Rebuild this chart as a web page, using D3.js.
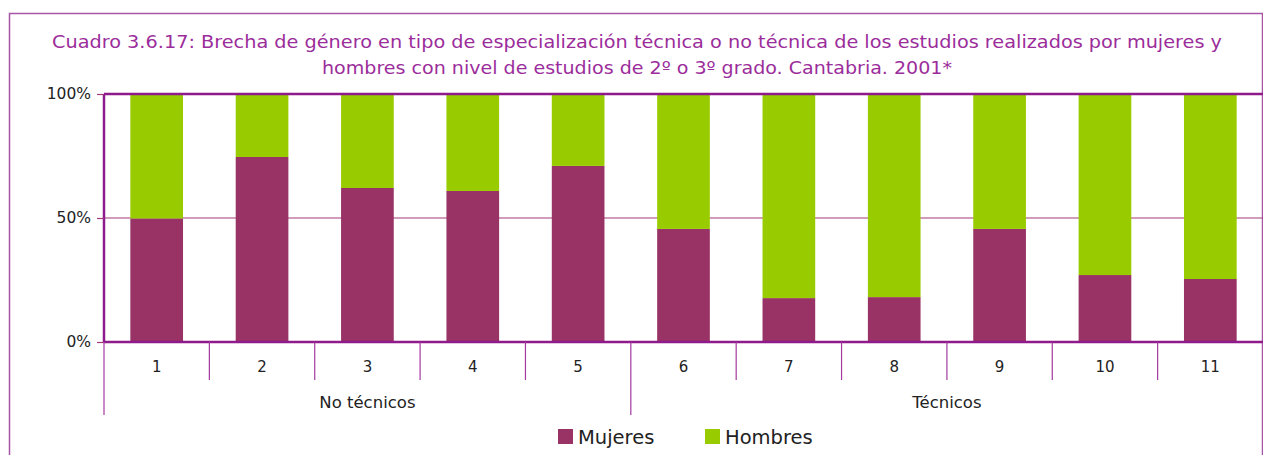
<!DOCTYPE html>
<html><head><meta charset="utf-8">
<script src="https://cdn.jsdelivr.net/npm/d3@7"></script>
<style>body{margin:0;background:#fff;}svg{display:block;}</style>
</head><body><svg id="c" width="1263" height="455"></svg>
<script>
const categories = ["1","2","3","4","5","6","7","8","9","10","11"];
const groups = [{name:"No técnicos", from:0, to:5},{name:"Técnicos", from:5, to:11}];
const mujeres = [49.8, 74.6, 62.1, 60.9, 71.0, 45.6, 17.7, 18.1, 45.6, 27.0, 25.4];
const hombres = mujeres.map(v => 100 - v);
const yTicks = [0, 50, 100];
const seriesNames = ["Mujeres","Hombres"];
const colors = ["#993366","#99CC00"];
const titleLines = ["Cuadro 3.6.17: Brecha de género en tipo de especialización técnica o no técnica de los estudios realizados por mujeres y",
  "hombres con nivel de estudios de 2º o 3º grado. Cantabria. 2001*"];
const titleWidths = [1170, 630];

const svg = d3.select("#c");
const font = "'DejaVu Sans', sans-serif";
const L = 104, R = 1263, T = 94, B = 342;
const purple = "#8E1A8C";

// outer border
svg.append("path").attr("d","M9.5,455 V13.5 H1262.5 V455").attr("fill","none").attr("stroke","#A855A8").attr("stroke-width",1.5);

// title
svg.append("g").selectAll("text").data(titleLines).join("text")
  .attr("x", 637).attr("y",(d,i)=>48+i*26).attr("text-anchor","middle")
  .attr("textLength",(d,i)=>titleWidths[i]).attr("lengthAdjust","spacingAndGlyphs")
  .attr("font-family",font).attr("font-size",17.5).attr("fill","#9B2D9B").text(d=>d);

const x = d3.scaleBand().domain(categories).range([L,R]).paddingInner(0.5).paddingOuter(0.25);
const xb = d3.scaleBand().domain(categories).range([L,R]);
const y = d3.scaleLinear().domain([0,100]).range([B,T]);

// gridline at 50
svg.append("g").selectAll("line").data(yTicks.filter(t=>t>0&&t<100)).join("line")
  .attr("x1",L).attr("x2",R).attr("y1",d=>y(d)).attr("y2",d=>y(d)).attr("stroke","#A33A78").attr("stroke-width",1.2);

// stacked bars
const stackData = categories.map((c,i)=>({cat:c, Mujeres:mujeres[i], Hombres:hombres[i]}));
const stack = d3.stack().keys(seriesNames)(stackData);
svg.append("g").selectAll("g").data(stack).join("g").attr("fill",(d,i)=>colors[i])
  .selectAll("rect").data(d=>d).join("rect")
  .attr("x",d=>x(d.data.cat)).attr("width",x.bandwidth())
  .attr("y",d=>y(d[1])).attr("height",d=>y(d[0])-y(d[1]));

// plot frame lines
svg.append("line").attr("x1",L).attr("x2",R).attr("y1",T).attr("y2",T).attr("stroke",purple).attr("stroke-width",2.5);
svg.append("line").attr("x1",L).attr("x2",R).attr("y1",B).attr("y2",B).attr("stroke",purple).attr("stroke-width",2.5);
svg.append("line").attr("x1",L).attr("x2",L).attr("y1",T).attr("y2",B).attr("stroke",purple).attr("stroke-width",2.5);

// y axis
const yAxis = svg.append("g").attr("transform",`translate(${L},0)`)
  .call(d3.axisLeft(y).tickValues(yTicks).tickFormat(d=>d+"%").tickSize(7).tickPadding(6));
yAxis.select(".domain").remove();
yAxis.selectAll("line").attr("stroke","#A33A78").attr("stroke-width",1.2);
yAxis.selectAll("text").attr("font-family",font).attr("font-size",15.5).attr("fill","#222");

// category separators
const seps = d3.range(categories.length+1).map(i => i<categories.length ? xb(categories[i]) : R);
svg.append("g").selectAll("line").data(seps.slice(0,-1)).join("line")
  .attr("x1",d=>d).attr("x2",d=>d).attr("y1",B).attr("y2",(d,i)=> groups.some(g=>g.from===i)?415:380)
  .attr("stroke","#A33AA0").attr("stroke-width",1.2);
svg.append("g").selectAll("text").data(categories).join("text")
  .attr("x",d=>xb(d)+xb.bandwidth()/2).attr("y",372).attr("text-anchor","middle")
  .attr("font-family",font).attr("font-size",15).attr("fill","#222").text(d=>d);
svg.append("g").selectAll("text").data(groups).join("text")
  .attr("x",g=>(xb(categories[g.from]) + (g.to<categories.length?xb(categories[g.to]):R))/2).attr("y",408)
  .attr("text-anchor","middle").attr("font-family",font).attr("font-size",16.5).attr("fill","#222").text(g=>g.name);

// legend
const legX = [558, 705];
const lg = svg.append("g").selectAll("g").data(seriesNames).join("g").attr("transform",(d,i)=>`translate(${legX[i]},429)`);
lg.append("rect").attr("width",15).attr("height",15).attr("fill",(d,i)=>colors[i]);
lg.append("text").attr("x",20).attr("y",15).attr("font-family",font).attr("font-size",19.5).attr("fill","#222").text(d=>d);
</script></body></html>
